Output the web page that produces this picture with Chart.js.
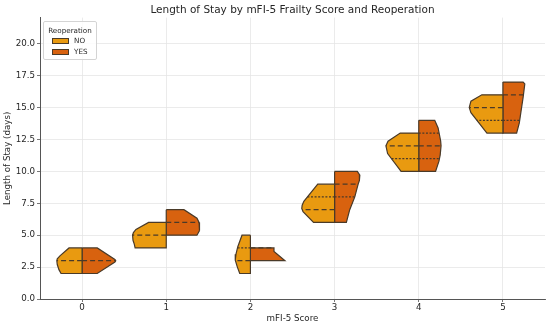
<!DOCTYPE html>
<html>
<head>
<meta charset="utf-8">
<script src="https://cdn.jsdelivr.net/npm/chart.js@4.4.1/dist/chart.umd.min.js"></script>
<style>
    html, body { margin: 0; padding: 0; background: #fff; }
    #wrap { position: relative; width: 550px; height: 328px; }
    #legend {
        position: absolute; left: 43px; top: 21px; width: 52px; height: 37px;
        border: 1px solid #d4d4d4; border-radius: 2px; background: rgba(255,255,255,0.85);
        font-family: 'DejaVu Sans', sans-serif; color: #262626; font-size: 7.2px;
    }
    #legend .ttl { position: absolute; left: 0; right: 0; top: 4px; text-align: center; }
    #legend .row { position: absolute; left: 8px; height: 9px; line-height: 9px; }
    #legend .sw { display: inline-block; width: 15px; height: 4.5px; border: 0.8px solid #4a3a28; vertical-align: middle; margin-right: 5px; }
</style>
</head>
<body>
<div id="wrap">
    <canvas id="losChart" width="550" height="328"></canvas>
    <div id="legend">
        <div class="ttl">Reoperation</div>
        <div class="row" style="top:14px"><span class="sw" style="background:#E99A10"></span>NO</div>
        <div class="row" style="top:25px"><span class="sw" style="background:#D8620F"></span>YES</div>
    </div>
</div>
<script>
// mFI-5 scores on the x axis
const scores = [0, 1, 2, 3, 4, 5];
const xTicks = [0, 1, 2, 3, 4, 5];
const yTicks = [0, 2.5, 5, 7.5, 10, 12.5, 15, 17.5, 20];

// violin half profiles: [length of stay, half width in score units], top -> bottom
const noProfiles = [
    [[4, 0.155], [3.4, 0.26], [3.15, 0.295], [3.0, 0.30], [2.7, 0.295], [2.3, 0.275], [2, 0.25]],
    [[6, 0.21], [5.45, 0.36], [5.2, 0.39], [5.0, 0.40], [4.6, 0.395], [4.3, 0.38], [4, 0.37]],
    [[5, 0.10], [4.1, 0.15], [3.5, 0.172], [3.05, 0.18], [2.5, 0.155], [2, 0.127]],
    [[9, 0.20], [7.65, 0.365], [7.35, 0.385], [7.1, 0.39], [6.85, 0.375], [6, 0.25]],
    [[13, 0.22], [12.37, 0.365], [12.0, 0.39], [11.4, 0.37], [10, 0.21]],
    [[16, 0.25], [15.5, 0.38], [15.0, 0.40], [14.6, 0.38], [13, 0.19]]
];
const yesProfiles = [
    [[4, 0.18], [3.1, 0.39], [3.0, 0.40], [2.9, 0.39], [2, 0.18]],
    [[7, 0.21], [6.33, 0.365], [6.0, 0.39], [5.75, 0.40], [5.36, 0.39], [5, 0.365]],
    [[4, 0.28], [3.72, 0.28], [3.0, 0.41]],
    [[10, 0.27], [9.7, 0.30], [9.3, 0.295], [9, 0.28], [8, 0.24], [7, 0.18], [6, 0.14]],
    [[14, 0.19], [13.4, 0.23], [12.4, 0.26], [12.0, 0.265], [11.3, 0.255], [10.8, 0.24], [10, 0.20]],
    [[17, 0.24], [16.85, 0.26], [15.8, 0.24], [14.7, 0.215], [13.8, 0.195], [13, 0.163]]
];

// inner lines (median dashed, quartiles dotted)
const noMedians = [3, 5, 3, 7, 12, 15];
const yesMedians = [3, 6, 4, 9, 12, 16];
const noQuartiles = [[], [], [4], [8], [11], [14]];
const yesQuartiles = [[], [], [], [8], [11, 13], [14]];

const noColor = '#E99A10';
const yesColor = '#D8620F';
const edgeColor = '#4a3a28';
const textColor = '#262626';

function widthAt(profile, y) {
    for (let i = 0; i < profile.length - 1; i++) {
        const a = profile[i], b = profile[i + 1];
        if (y <= a[0] && y >= b[0]) {
            if (a[0] === b[0]) return a[1];
            return b[1] + (a[1] - b[1]) * (y - b[0]) / (a[0] - b[0]);
        }
    }
    return 0;
}

function halfShape(score, profile, side) {
    const top = profile[0][0];
    const bottom = profile[profile.length - 1][0];
    const pts = [{ x: score, y: top }];
    profile.forEach(p => pts.push({ x: score + side * p[1], y: p[0] }));
    pts.push({ x: score, y: bottom });
    pts.push({ x: score, y: top });
    return pts;
}

function innerLine(score, profile, side, level, dash) {
    const w = widthAt(profile, level);
    return {
        data: [{ x: score, y: level }, { x: score + side * w, y: level }],
        showLine: true, fill: false, borderColor: edgeColor, borderWidth: 1.2,
        borderDash: dash, pointRadius: 0, order: 1
    };
}

const datasets = [];
scores.forEach((s, i) => {
    datasets.push({
        data: halfShape(s, noProfiles[i], -1), showLine: true, fill: 'shape',
        backgroundColor: noColor, borderColor: edgeColor, borderWidth: 1.2,
        pointRadius: 0, order: 2
    });
    datasets.push({
        data: halfShape(s, yesProfiles[i], 1), showLine: true, fill: 'shape',
        backgroundColor: yesColor, borderColor: edgeColor, borderWidth: 1.2,
        pointRadius: 0, order: 2
    });
    datasets.push(innerLine(s, noProfiles[i], -1, noMedians[i], [5, 3]));
    datasets.push(innerLine(s, yesProfiles[i], 1, yesMedians[i], [5, 3]));
    noQuartiles[i].forEach(q => datasets.push(innerLine(s, noProfiles[i], -1, q, [2, 1.6])));
    yesQuartiles[i].forEach(q => datasets.push(innerLine(s, yesProfiles[i], 1, q, [2, 1.6])));
});

const ctx = document.getElementById('losChart').getContext('2d');
new Chart(ctx, {
    type: 'scatter',
    data: { datasets: datasets },
    options: {
        responsive: false,
        animation: false,
        devicePixelRatio: 1,
        events: [],
        layout: { padding: { left: 0, right: 5, top: 0, bottom: 0 } },
        plugins: {
            legend: { display: false },
            tooltip: { enabled: false },
            title: {
                display: true,
                fullSize: false,
                text: 'Length of Stay by mFI-5 Frailty Score and Reoperation',
                color: textColor,
                font: { family: 'DejaVu Sans', size: 10.5, weight: 'normal' },
                padding: { top: 4, bottom: 1 }
            }
        },
        scales: {
            x: {
                type: 'linear', min: -0.5, max: 5.5,
                afterBuildTicks: (scale) => { scale.ticks = xTicks.map(v => ({ value: v })); },
                afterFit: (scale) => { scale.height = 29; },
                ticks: { color: textColor, padding: 1, font: { family: 'DejaVu Sans', size: 8.7 } },
                grid: { color: '#e6e6e6', lineWidth: 0.8, tickColor: '#555', tickLength: 3 },
                border: { color: '#555', width: 1 },
                title: {
                    display: true, text: 'mFI-5 Score', color: textColor,
                    font: { family: 'DejaVu Sans', size: 8.7 }, padding: { top: 0, bottom: 4 }
                }
            },
            y: {
                type: 'linear', min: 0, max: 22.05,
                afterBuildTicks: (scale) => { scale.ticks = yTicks.map(v => ({ value: v })); },
                afterFit: (scale) => { scale.width = 40; },
                ticks: {
                    color: textColor, padding: 2, font: { family: 'DejaVu Sans', size: 8.7 },
                    callback: (v) => Number(v).toFixed(1)
                },
                grid: { color: '#e6e6e6', lineWidth: 0.8, tickColor: '#555', tickLength: 3 },
                border: { color: '#555', width: 1 },
                title: {
                    display: true, text: 'Length of Stay (days)', color: textColor,
                    font: { family: 'DejaVu Sans', size: 8.7 }, padding: { top: 3, bottom: 0 }
                }
            }
        }
    }
});
</script>
</body>
</html>
